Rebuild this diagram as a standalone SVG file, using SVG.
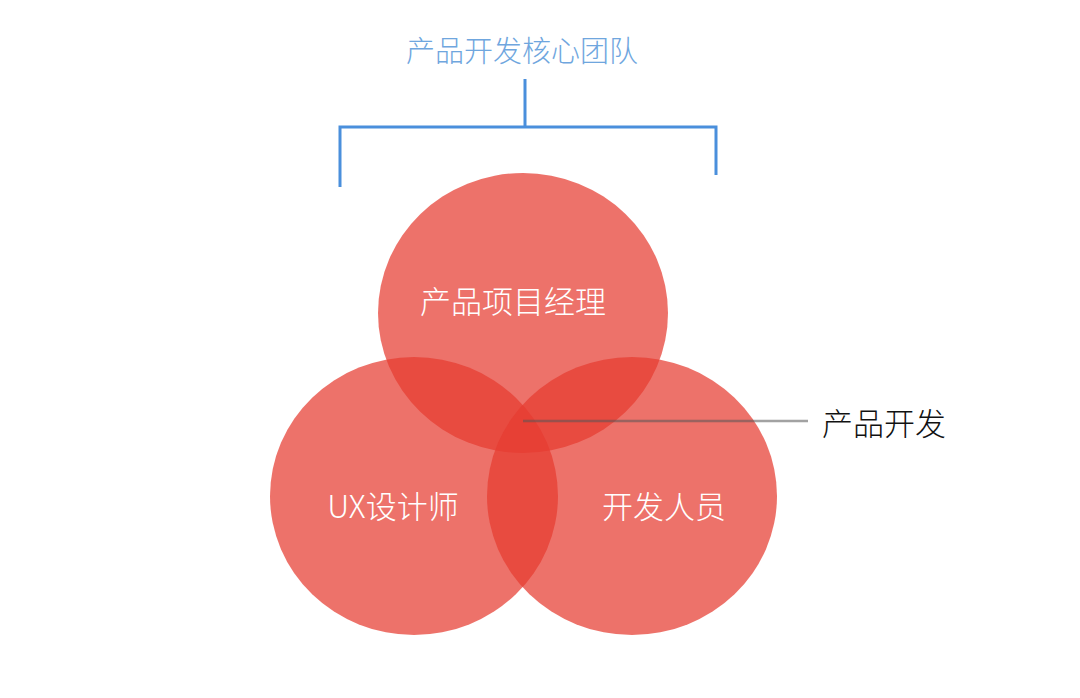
<svg xmlns="http://www.w3.org/2000/svg" width="1080" height="698" viewBox="0 0 1080 698">
<style>
.c{fill:#e63c30;fill-opacity:0.72}
.t{font-family:"Noto Sans CJK SC","Noto Sans",sans-serif;font-weight:300;text-anchor:middle}
.w{fill:#ffffff;font-size:31px}
.br{fill:none;stroke:#4a8fdc;stroke-width:3}
</style>
<rect width="1080" height="698" fill="#ffffff"/>
<g id="title">
<text class="t" x="522" y="62" font-size="29" fill="#6fa6de">产品开发核心团队</text>
</g>
<g id="connectors">
<path class="br" d="M525 79V127M340 187V127H716V175"/>
</g>
<g id="pm">
<ellipse class="c" cx="523" cy="313" rx="145" ry="140"/>
</g>
<g id="ux">
<ellipse class="c" cx="414" cy="496" rx="144" ry="139"/>
</g>
<g id="dev">
<ellipse class="c" cx="632" cy="496" rx="145" ry="139"/>
</g>
<g id="labels">
<text class="t w" x="513" y="313">产品项目经理</text>
<text class="t w" x="393" y="518">UX设计师</text>
<text class="t w" x="664" y="518">开发人员</text>
</g>
<g id="pd">
<line x1="523" y1="421" x2="808" y2="421" stroke="#555" stroke-opacity="0.55" stroke-width="2.5"/>
<text class="t" x="884" y="435" font-size="31" fill="#111">产品开发</text>
</g>
</svg>
